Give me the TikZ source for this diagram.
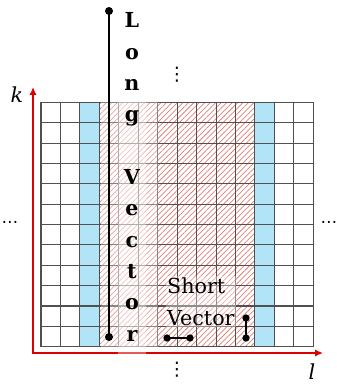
\documentclass[tikz,border=0pt]{standalone}
\usepackage{fontspec}
\setmainfont{DejaVu Serif}
\newfontfamily\symfont{DejaVu Sans}
\usetikzlibrary{patterns.meta,arrows.meta}
\definecolor{cellblue}{RGB}{178,228,248}
\definecolor{hatchred}{RGB}{222,128,118}
\definecolor{gridgray}{RGB}{80,80,80}
\definecolor{axisred}{RGB}{220,0,0}
\begin{document}
\begin{tikzpicture}[x=0.75pt,y=-0.75pt,
  gridline/.style={draw=gridgray,line width=0.8pt},
  axisline/.style={draw=axisred,line width=1.6pt,{Latex[length=6pt,width=5.5pt]}-{Latex[length=6pt,width=5.5pt]}},
  dotnode/.style={circle,fill=black,inner sep=0pt,minimum size=6pt},
  sdotnode/.style={circle,fill=black,inner sep=0pt,minimum size=5.5pt},
  vecline/.style={line width=2.2pt},
  svecline/.style={line width=2pt},
  haze/.style={fill=white,fill opacity=0.35,text opacity=1},
  lbl/.style={font=\fontsize{15.5}{18}\selectfont\itshape},
  vdotslbl/.style={font=\symfont\fontsize{14}{16}\selectfont},
  hdotslbl/.style={font=\symfont\fontsize{12.5}{15}\selectfont}]
\useasboundingbox (0,0) rectangle (336,384);
% blue columns
\fill[cellblue] ({41+2*19.45},102.3) rectangle ({41+3*19.45},346.7);
\fill[cellblue] ({41+11*19.45},102.3) rectangle ({41+12*19.45},346.7);
% hatched block
\fill[pattern={Lines[angle=45,distance=2.9pt,line width=0.55pt]},pattern color=hatchred] ({41+3*19.45},102.3) rectangle ({41+11*19.45},346.7);
% grid
\foreach \i in {0,...,14} \draw[gridline] ({41+\i*19.45},102.3) -- ({41+\i*19.45},346.7);
\foreach \j in {0,...,12} \draw[gridline] (41,{102.3+\j*20.37}) -- (313.3,{102.3+\j*20.37});
% lighter band
\fill[white,fill opacity=0.3] (100.5,102.3) rectangle (158.2,346.7);
% axes
\coordinate (ktip) at (33,87);
\coordinate (origin) at (33,353);
\coordinate (ltip) at (323,353);
\draw[axisline] (ktip) -- (origin) -- (ltip);
% long vector text
\node[haze,inner xsep=0pt,inner ysep=12pt,minimum width=21pt,align=center,
  font=\fontsize{15.5}{23.5}\selectfont\bfseries] (longtxt) at (132,177)
  {L\\o\\n\\g\\[23.5pt]V\\e\\c\\t\\o\\r};
% short vector text
\node[haze,inner sep=1pt,align=left,anchor=west,
  font=\fontsize{15.5}{24}\selectfont] (shorttxt) at (165.5,301.5) {Short\\Vector};
% long vector
\node[dotnode] (lvtop) at (109,11) {};
\node[dotnode] (lvbot) at (109,337) {};
\draw[vecline] (lvtop.center) -- (lvbot.center);
% short vectors
\node[sdotnode] (shl) at (167,338) {};
\node[sdotnode] (shr) at (190,338) {};
\draw[svecline] (shl.center) -- (shr.center);
\node[sdotnode] (svt) at (246,318) {};
\node[sdotnode] (svb) at (246,338) {};
\draw[svecline] (svt.center) -- (svb.center);
% axis labels
\node[lbl] (klbl) at (17,95) {k};
\node[lbl] (llbl) at (312,372) {l};
% ellipses
\node[vdotslbl] (topdots) at (177,75) {⋮};
\node[vdotslbl] (botdots) at (177,370) {⋮};
\node[hdotslbl] (leftdots) at (10,222) {…};
\node[hdotslbl] (rightdots) at (329,222) {…};
\end{tikzpicture}
\end{document}
